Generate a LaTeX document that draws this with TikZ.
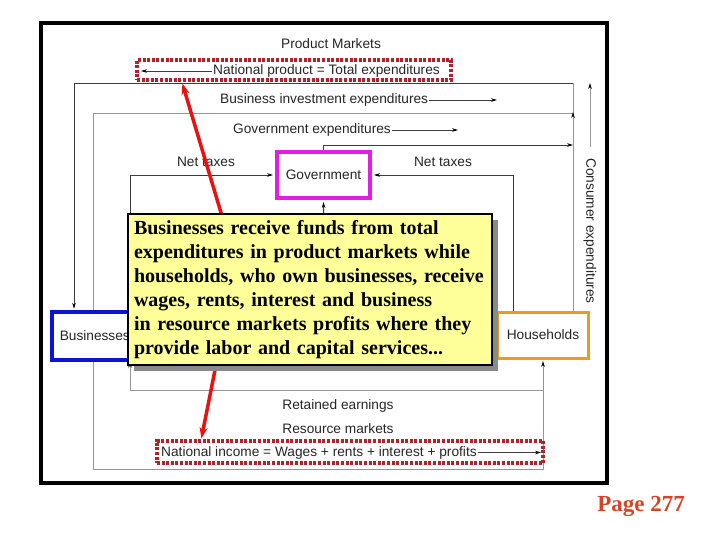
\documentclass[tikz,border=0pt]{standalone}
\usepackage{fontspec}
\setmainfont{Liberation Serif}
\setsansfont{Liberation Sans}
\usetikzlibrary{arrows.meta,shadows,backgrounds}
\definecolor{dred}{RGB}{178,34,40}
\definecolor{bred}{RGB}{232,18,18}
\definecolor{magbox}{RGB}{226,30,226}
\definecolor{bluebox}{RGB}{10,20,210}
\definecolor{orbox}{RGB}{240,152,36}
\definecolor{callfill}{RGB}{255,255,153}
\definecolor{pagered}{RGB}{212,68,38}
\definecolor{ldark}{RGB}{60,60,60}
\definecolor{llight}{RGB}{150,150,150}
\definecolor{shadowgray}{RGB}{138,138,138}
\begin{document}
\begin{tikzpicture}[x=1pt,y=-1pt,
  lbl/.style={font=\sffamily\fontsize{13.7}{16}\selectfont, text=black!85, inner sep=1pt},
  arr/.style={-{Stealth[length=6pt,width=3.6pt,black]}},
  flow/.style={ldark, line width=0.9pt},
  flowl/.style={llight, line width=0.9pt},
  redbox/.style={draw=dred, line width=3.2pt, dash pattern=on 3pt off 1.6pt, inner sep=0pt},
  agent/.style={fill=white, text=black!85, font=\sffamily\fontsize{13.7}{16}\selectfont, inner sep=0pt},
  redarr/.style={bred, line width=3.5pt, -{Stealth[length=11pt,width=8pt]}}
]
\useasboundingbox (0,0) rectangle (720,540);
\draw[line width=3.2pt] (41,23) rectangle (607,483);

% top labels
\node[lbl] (pm) at (331,44) {Product Markets};
\node[redbox, minimum width=314pt, minimum height=20pt] (npbox) at (294,70) {};
\node[lbl, anchor=east] (nptxt) at (441,71) {National product = Total expenditures};
\coordinate (npend) at (141,71);

\node[lbl, anchor=west] (bie) at (219,100) {Business investment expenditures};
\coordinate (bieend) at (497,100);
\node[lbl, anchor=west] (ge) at (232,130) {Government expenditures};
\coordinate (geend) at (458,130);
\node[lbl] (ntl) at (206,162) {Net taxes};
\node[lbl] (ntr) at (443,162) {Net taxes};
\node[lbl, rotate=-90] (ce) at (590,231) {Consumer expenditures};
\coordinate (ceend) at (590,83);

% agents
\node[agent, draw=magbox, line width=4pt, minimum width=93pt, minimum height=46pt] (gov) at (323.5,175) {Government};
\node[agent, draw=orbox, line width=3pt, minimum width=91pt, minimum height=46pt] (hh) at (543,335) {Households};
\node[agent, draw=bluebox, line width=3.5pt, minimum height=48pt, inner xsep=8pt, anchor=west] (bus) at (50,336) {Businesses};

% bottom labels
\node[lbl] (re) at (338,406) {Retained earnings};
\node[lbl] (rm) at (338,429) {Resource markets};
\node[redbox, minimum width=386pt, minimum height=22pt] (nibox) at (350,452) {};
\node[lbl, anchor=west] (nitxt) at (160,452.5) {National income = Wages + rents + interest + profits};
\coordinate (niend) at (541,452.5);

\coordinate (govin) at (324,240);
\coordinate (rs1) at (222,216);
\coordinate (rs2) at (217,360);

\begin{scope}[on background layer]
  \fill[white] (0,0) rectangle (720,540);
  \draw[flow,arr] (nptxt.west) -- (npend);
  \draw[flow,arr] (bie.east) -- (bieend);
  \draw[flow,arr] (ge.east) -- (geend);
  \draw[flow,arr] (nitxt.east) -- (niend);
  \draw[flowl,arr] ([yshift=10pt]ce.west) -- (ceend);
  % consumer expenditures loop
  \draw[flowl] (hh.north -| 573,0) -- (573,83);
  \draw[flow,arr,shorten >=1.5pt] (573,83) -| (bus.north -| 74,0);
  % business investment
  \draw[flowl] (bus.north -| 93,0) |- (573,113);
  \draw[flowl,arr] (573,124) -- (573,112);
  % government expenditures
  \draw[flow,arr] (gov.north) |- (573,145);
  % net taxes
  \draw[flow,arr,shorten >=2pt] (bus.north -| 130,0) |- (gov.west);
  \draw[flow,arr,shorten >=2pt] (hh.north -| 513,0) |- (gov.east);
  \draw[flow,arr,shorten >=2pt] (govin) -- (gov.south);
  % resource markets loop
  \draw[flowl,arr,shorten >=1.5pt] (bus.south -| 93,0) |- (543,469) -- (hh.south);
  % retained earnings
  \draw[flowl,arr] (543,390) -| (bus.south -| 130,0);
\end{scope}

% red pointers
\draw[redarr] (rs1) -- ([xshift=47pt,yshift=-2pt]npbox.south west);
\draw[redarr] (rs2) -- ([xshift=46pt,yshift=1pt]nibox.north west);

% callout
\node[draw=black, line width=2pt, fill=callfill,
  drop shadow={shadow xshift=6pt, shadow yshift=-6pt, fill=shadowgray, opacity=1},
  minimum width=364pt, minimum height=150pt, text width=352pt, align=left, inner sep=6pt,
  font=\bfseries\fontsize{20}{24}\selectfont] (callout) at (310,289.5)
  {Businesses receive funds from total\\
   expenditures in product markets while\\
   households, who own businesses, receive\\
   wages, rents, interest and business\\
   in resource markets profits where they\\
   provide labor and capital services...};

\node[font=\bfseries\fontsize{23}{26}\selectfont, text=pagered, inner sep=0pt] (page) at (641,506) {Page 277};
\end{tikzpicture}
\end{document}
